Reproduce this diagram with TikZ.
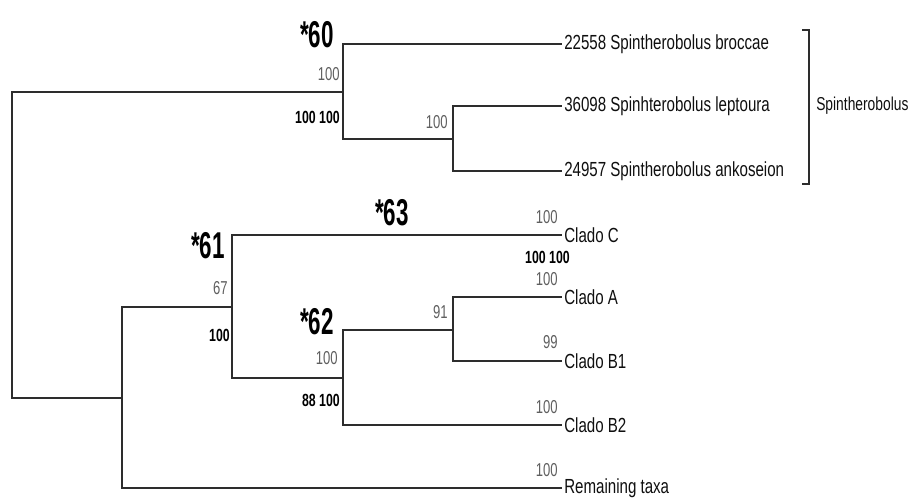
\documentclass[tikz,border=0pt]{standalone}
\usepackage{fontspec}
\usepackage{tikz}
\usetikzlibrary{positioning, calc}
\setmainfont{Liberation Sans}
\newfontfamily\taxonfont[FakeStretch=0.74]{Liberation Sans}
\newfontfamily\supfont[FakeStretch=0.7]{Liberation Sans}
\newfontfamily\cladefont[FakeStretch=0.6]{Liberation Sans}
\definecolor{treeline}{RGB}{45,45,45}
\definecolor{supgray}{RGB}{95,95,95}
\definecolor{supdark}{RGB}{15,15,15}
\tikzset{
  branch/.style={line width=1.1pt, color=treeline},
  taxon/.style={anchor=west, inner sep=1.5pt, text=supdark,
    font=\taxonfont\fontsize{15.3}{17}\selectfont},
  supval/.style={anchor=east, inner sep=0pt, text=supgray,
    font=\supfont\fontsize{14}{16}\selectfont},
  supbold/.style={anchor=east, inner sep=0pt, text=black,
    font=\supfont\bfseries\fontsize{13.2}{15}\selectfont},
  cladetag/.style={inner sep=0pt, text=black,
    font=\cladefont\bfseries\fontsize{28}{30}\selectfont}
}

\begin{document}
\begin{tikzpicture}[x=0.75pt, y=-0.75pt]
  \useasboundingbox (0,0) rectangle (913,500);

  % internal nodes
  \coordinate (root) at (12, 245);
  \coordinate (n60) at (343, 92);
  \coordinate (spin) at (453, 139);
  \coordinate (ingroup) at (122, 398);
  \coordinate (n61) at (232, 307);
  \coordinate (n62) at (343, 378);
  \coordinate (ab) at (453, 330);

  % tips
  \node[taxon] (broccae) at (562, 44) {22558 Spintherobolus broccae};
  \node[taxon] (leptoura) at (562, 106) {36098 Spinhterobolus leptoura};
  \node[taxon] (ankoseion) at (562, 171) {24957 Spintherobolus ankoseion};
  \node[taxon] (cladoC) at (562, 235) {Clado C};
  \node[taxon] (cladoA) at (562, 297) {Clado A};
  \node[taxon] (cladoB1) at (562, 361) {Clado B1};
  \node[taxon] (cladoB2) at (562, 425) {Clado B2};
  \node[taxon] (rest) at (562, 488) {Remaining taxa};

  \draw[branch] (root) |- (n60);
  \draw[branch] (root) |- (ingroup);
  \draw[branch] (n60) |- (broccae.west);
  \draw[branch] (n60) |- (spin);
  \draw[branch] (spin) |- (leptoura.west);
  \draw[branch] (spin) |- (ankoseion.west);
  \draw[branch] (ingroup) |- (n61);
  \draw[branch] (ingroup) |- (rest.west);
  \draw[branch] (n61) |- (cladoC.west);
  \draw[branch] (n61) |- (n62);
  \draw[branch] (n62) |- (ab);
  \draw[branch] (n62) |- (cladoB2.west);
  \draw[branch] (ab) |- (cladoA.west);
  \draw[branch] (ab) |- (cladoB1.west);

  % genus bracket
  \coordinate (brtop) at (802, 30);
  \coordinate (brbot) at (802, 184);
  \draw[branch, line width=0.9pt] (brtop) -- ++(7,0) |- (brbot);
  \node[taxon, font=\taxonfont\fontsize{14}{16}\selectfont] (genus) at (814, 106) {Spintherobolus};

  % clade tags
  \node[cladetag] (t60) at (317, 35) {*60};
  \node[cladetag] (t61) at (208, 246) {*61};
  \node[cladetag] (t62) at (317, 322) {*62};
  \node[cladetag] (t63) at (392, 213) {*63};

  % support values
  \node[supval] (s60a) at (340, 74) {100};
  \node[supbold] (s60b) at (340, 117) {100 100};
  \node[supval] (sspin) at (448, 122) {100};
  \node[supval] (s61a) at (228, 288) {67};
  \node[supbold] (s61b) at (230, 335) {100};
  \node[supval] (s62a) at (338, 358) {100};
  \node[supbold] (s62b) at (340, 400) {88 100};
  \node[supval] (sab) at (448, 312) {91};
  \node[supval] (sC) at (558, 217) {100};
  \node[supbold] (sC2) at (570, 257) {100 100};
  \node[supval] (sA) at (558, 279) {100};
  \node[supval] (sB1) at (558, 342) {99};
  \node[supval] (sB2) at (558, 407) {100};
  \node[supval] (srest) at (558, 470) {100};
\end{tikzpicture}
\end{document}
